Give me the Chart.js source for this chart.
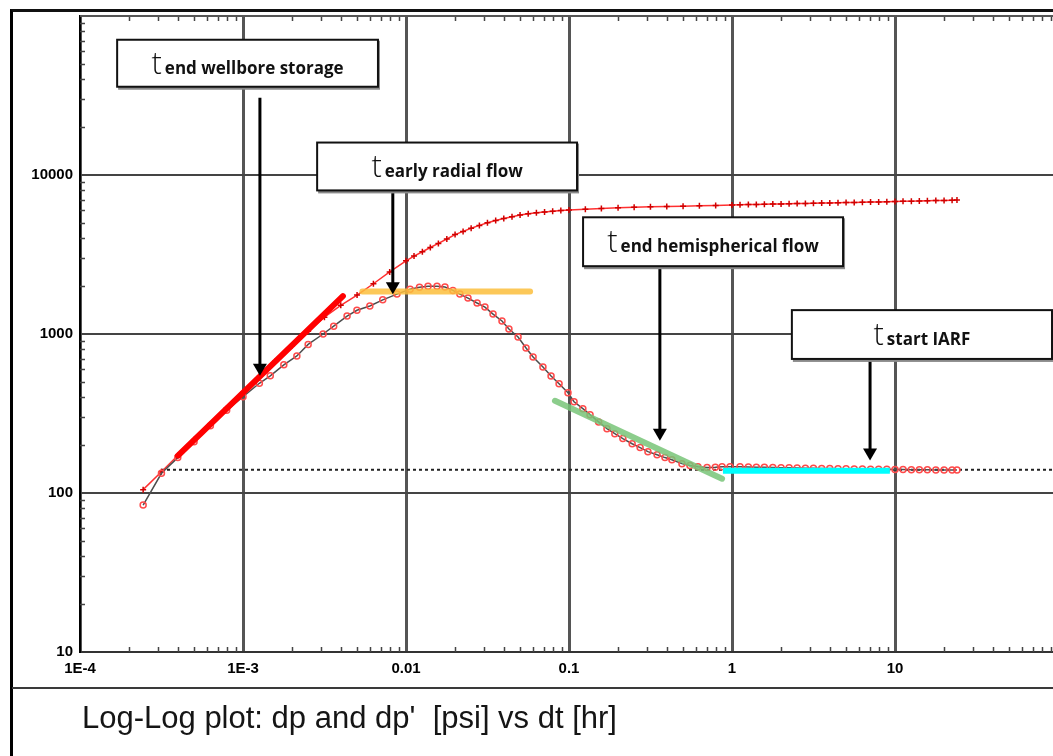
<!DOCTYPE html>
<html lang="en">
  <head>
    <meta charset="UTF-8" />
    <title>Log-Log plot</title>
    <script src="https://cdn.jsdelivr.net/npm/chart.js"></script>
    <style>
      body {
        margin: 0;
        background: #fff;
      }
      .sheet {
        position: relative;
        width: 1053px;
        height: 756px;
        overflow: hidden;
        background: #fff;
      }
      #plot {
        position: absolute;
        left: 0;
        top: 0;
      }
      .frame {
        position: absolute;
        left: 10px;
        top: 9px;
        width: 1100px;
        height: 800px;
        border-left: 3px solid #000;
        border-top: 3px solid #111;
        pointer-events: none;
      }
      .rule {
        position: absolute;
        left: 12px;
        top: 687px;
        width: 1100px;
        height: 2px;
        background: #3a3a3a;
      }
      .caption {
        position: absolute;
        left: 82px;
        top: 702px;
        font: 31px/31px "Liberation Sans", Arial, sans-serif;
        color: #151515;
        white-space: pre;
      }
    </style>
  </head>
  <body>
    <div class="sheet">
      <canvas id="plot" width="1075" height="756"></canvas>
      <div class="frame"></div>
      <div class="rule"></div>
      <div class="caption">Log-Log plot: dp and dp'  [psi] vs dt [hr]</div>
    </div>

    <script>
      // pressure change dp [psi] vs elapsed time dt [hr]
      const dtDp = [
        2.44e-4, 3.16e-4, 3.98e-4, 5.01e-4, 6.31e-4, 7.94e-4, 1e-3, 1.26e-3,
        1.58e-3, 2.0e-3, 2.51e-3, 3.16e-3, 3.98e-3, 5.01e-3, 6.31e-3, 7.94e-3,
        0.01, 0.0112, 0.0126, 0.0141, 0.0158, 0.0178, 0.02, 0.0224, 0.0251,
        0.0282, 0.0316, 0.0355, 0.0398, 0.0447, 0.0501, 0.0562, 0.0631, 0.0708,
        0.0794, 0.0891, 0.1, 0.126, 0.158, 0.2, 0.251, 0.316, 0.398, 0.501,
        0.631, 0.794, 1.0, 1.12, 1.26, 1.41, 1.58, 1.78, 2.0, 2.24, 2.51, 2.82,
        3.16, 3.55, 3.98, 4.47, 5.01, 5.62, 6.31, 7.08, 7.94, 8.91, 10, 11.2,
        12.6, 14.1, 15.8, 17.8, 20, 22.4, 24,
      ];
      const dp = [
        105, 136, 172, 216, 272, 342, 430, 540, 676, 843, 1042, 1276, 1514,
        1758, 2070, 2455, 2884, 3090, 3289, 3500, 3715, 3960, 4217, 4420, 4624,
        4820, 5012, 5180, 5333, 5470, 5598, 5700, 5781, 5850, 5916, 5970, 6026,
        6100, 6166, 6220, 6266, 6305, 6339, 6370, 6397, 6440, 6486, 6500, 6515,
        6530, 6546, 6560, 6575, 6590, 6607, 6625, 6640, 6655, 6668, 6685, 6705,
        6725, 6745, 6760, 6775, 6790, 6808, 6830, 6850, 6870, 6887, 6905, 6920,
        6935, 6950,
      ];

      // pressure derivative dp' [psi]
      const dtDer = [
        2.44e-4, 3.16e-4, 3.98e-4, 5.01e-4, 6.31e-4, 7.94e-4, 1e-3, 1.26e-3,
        1.47e-3, 1.78e-3, 2.14e-3, 2.51e-3, 3.1e-3, 3.6e-3, 4.35e-3, 5.0e-3,
        6.0e-3, 7.2e-3, 8.8e-3, 0.0106, 0.0121, 0.01365, 0.0155, 0.01734,
        0.0194, 0.0214, 0.024, 0.0273, 0.0305, 0.0342, 0.0388, 0.0428, 0.0487,
        0.0545, 0.0602, 0.0692, 0.0776, 0.0869, 0.0986, 0.1074, 0.1216, 0.1346,
        0.152, 0.171, 0.191, 0.214, 0.244, 0.273, 0.305, 0.347, 0.388, 0.428,
        0.493, 0.552, 0.618, 0.703, 0.79, 0.869, 0.973, 1.12, 1.26, 1.41, 1.58,
        1.78, 2.0, 2.24, 2.51, 2.82, 3.16, 3.55, 3.98, 4.47, 5.01, 5.62, 6.31,
        7.08, 7.94, 8.91, 10, 11.2, 12.6, 14.1, 15.8, 17.8, 20, 22.4, 24,
      ];
      const dpDer = [
        84, 133, 167, 210, 265, 331, 403, 490, 546, 640, 728, 860, 1000, 1120,
        1297, 1410, 1500, 1640, 1782, 1914, 1965, 2000, 1995, 1972, 1880, 1782,
        1683, 1566, 1477, 1334, 1207, 1075, 957, 817, 717, 621, 545, 486, 427,
        375, 339, 311, 280, 254, 236, 220, 204, 193, 182, 174, 167, 162, 153,
        149, 146.5, 144.5, 145, 146.5, 146.5, 146, 145.5, 145, 145, 144.5, 144,
        144, 143.5, 143, 143, 142.5, 142.5, 142, 142, 141.5, 141.5, 141, 141,
        141, 140.5, 140.5, 140, 140, 140, 139.5, 139.5, 139.5, 139.5,
      ];

      // flow-regime straight lines
      const wbsDt = [3.99e-4, 4.1e-3];
      const wbsP = [172, 1730];
      const radialDt = [5.4e-3, 0.0577];
      const radialP = [1850, 1850];
      const hemiDt = [0.082, 0.869];
      const hemiP = [380, 123];
      const iarfDt = [0.88, 9.3];
      const iarfP = [138, 138];
      const stabDt = [3.14e-4, 100];
      const stabP = [140, 140];

      // axes
      const xTicks = [1e-4, 1e-3, 0.01, 0.1, 1, 10, 100];
      const xLabels = ["1E-4", "1E-3", "0.01", "0.1", "1", "10", ""];
      const yTicks = [10, 100, 1000, 10000, 100000];
      const yLabels = ["10", "100", "1000", "10000", ""];

      // callouts: box corners [dt1, dt2, p1, p2], arrow [dt, pFrom, pTo]
      const callouts = [
        { text: "end wellbore storage", box: [1.69e-4, 6.73e-3, 70900, 35900], arrow: [1.27e-3, 30600, 546] },
        { text: "early radial flow", box: [2.85e-3, 0.112, 16000, 8000], arrow: [8.3e-3, 7900, 1780] },
        { text: "end hemispherical flow", box: [0.122, 4.8, 5420, 2670], arrow: [0.361, 2640, 213] },
        { text: "start IARF", box: [2.33, 91.9, 1413, 697], arrow: [7.03, 690, 160] },
      ];

      const pairs = (xs, ys) => xs.map((x, i) => ({ x, y: ys[i] }));

      const minorTicks = {
        id: "minorTicks",
        beforeDatasetsDraw(chart) {
          const { ctx, chartArea, scales } = chart;
          const { left, right, top, bottom } = chartArea;
          ctx.save();
          ctx.strokeStyle = "#444";
          ctx.lineWidth = 1.5;
          ctx.beginPath();
          for (let k = -4; k < 2; k++) {
            for (let m = 2; m <= 9; m++) {
              const px = Math.round(scales.x.getPixelForValue(m * 10 ** k)) + 0.5;
              ctx.moveTo(px, bottom);
              ctx.lineTo(px, bottom - 5);
              ctx.moveTo(px, top);
              ctx.lineTo(px, top + 5);
            }
          }
          for (let k = 1; k < 5; k++) {
            for (let m = 2; m <= 9; m++) {
              const py = Math.round(scales.y.getPixelForValue(m * 10 ** k)) + 0.5;
              ctx.moveTo(left, py);
              ctx.lineTo(left + 5, py);
            }
          }
          ctx.stroke();
          // top edge of the plot
          ctx.strokeStyle = "#555";
          ctx.lineWidth = 2;
          ctx.beginPath();
          ctx.moveTo(left, top);
          ctx.lineTo(right, top);
          ctx.stroke();
          ctx.restore();
        },
      };

      const calloutBoxes = {
        id: "calloutBoxes",
        afterDraw(chart) {
          const { ctx, scales } = chart;
          const sx = scales.x, sy = scales.y;
          ctx.save();
          callouts.forEach((c) => {
            const x1 = sx.getPixelForValue(c.box[0]);
            const x2 = sx.getPixelForValue(c.box[1]);
            const y1 = sy.getPixelForValue(c.box[2]);
            const y2 = sy.getPixelForValue(c.box[3]);

            // arrow
            const ax = sx.getPixelForValue(c.arrow[0]);
            const ay1 = sy.getPixelForValue(c.arrow[1]);
            const ay2 = sy.getPixelForValue(c.arrow[2]);
            ctx.strokeStyle = "#000";
            ctx.lineWidth = 3;
            ctx.beginPath();
            ctx.moveTo(ax, ay1);
            ctx.lineTo(ax, ay2 - 10);
            ctx.stroke();
            ctx.fillStyle = "#000";
            ctx.beginPath();
            ctx.moveTo(ax - 7, ay2 - 12);
            ctx.lineTo(ax + 7, ay2 - 12);
            ctx.lineTo(ax, ay2);
            ctx.closePath();
            ctx.fill();

            // box
            ctx.fillStyle = "#8a8a8a";
            ctx.fillRect(x1 + 1, y1 + 1, x2 - x1 + 1, y2 - y1 + 2);
            ctx.fillStyle = "#fff";
            ctx.fillRect(x1, y1, x2 - x1, y2 - y1);
            ctx.strokeStyle = "#111";
            ctx.lineWidth = 2;
            ctx.strokeRect(x1, y1, x2 - x1, y2 - y1);

            // label: large "t" followed by the event name
            ctx.fillStyle = "#111";
            ctx.textBaseline = "alphabetic";
            const big = '300 31px "Open Sans"';
            const small = '700 17px "Open Sans"';
            ctx.font = big;
            const wt = ctx.measureText("t").width;
            ctx.font = small;
            const ws = ctx.measureText(c.text).width;
            const gap = 3;
            const start = (x1 + x2) / 2 - (wt + gap + ws) / 2;
            const base = y1 + (y2 - y1) * 0.72;
            ctx.font = big;
            ctx.fillText("t", start, base);
            ctx.font = small;
            ctx.fillText(c.text, start + wt + gap, base);
          });
          ctx.restore();
        },
      };

      const tickFont = { family: "Liberation Sans", size: 15, weight: "bold" };

      new Chart(document.getElementById("plot"), {
        type: "scatter",
        data: {
          datasets: [
            {
              label: "IARF",
              data: pairs(iarfDt, iarfP),
              showLine: true,
              borderColor: "#00ffff",
              borderWidth: 6,
              pointRadius: 0,
              order: 0,
            },
            {
              label: "hemispherical flow",
              data: pairs(hemiDt, hemiP),
              showLine: true,
              borderColor: "rgba(120,196,120,0.85)",
              borderWidth: 6,
              borderCapStyle: "round",
              pointRadius: 0,
              order: 0,
            },
            {
              label: "early radial flow",
              data: pairs(radialDt, radialP),
              showLine: true,
              borderColor: "rgba(252,190,60,0.85)",
              borderWidth: 6,
              borderCapStyle: "round",
              pointRadius: 0,
              order: 0,
            },
            {
              label: "wellbore storage",
              data: pairs(wbsDt, wbsP),
              showLine: true,
              borderColor: "#ff0000",
              borderWidth: 6,
              borderCapStyle: "round",
              pointRadius: 0,
              order: 0,
            },
            {
              label: "dp'",
              data: pairs(dtDer, dpDer),
              showLine: true,
              borderColor: "#4d4d4d",
              borderWidth: 1.5,
              pointStyle: "circle",
              pointRadius: 3,
              pointBorderColor: "#ff4a4a",
              pointBackgroundColor: "rgba(255,255,255,0)",
              pointBorderWidth: 1.5,
              order: 1,
            },
            {
              label: "dp",
              data: pairs(dtDp, dp),
              showLine: true,
              borderColor: "#ff3030",
              borderWidth: 1.5,
              pointStyle: "cross",
              pointRadius: 3,
              pointBorderColor: "#d00000",
              pointBorderWidth: 1.5,
              order: 2,
            },
            {
              label: "stabilisation",
              data: pairs(stabDt, stabP),
              showLine: true,
              borderColor: "#222",
              borderWidth: 2,
              borderDash: [3, 3],
              pointRadius: 0,
              order: 3,
            },
          ],
        },
        options: {
          responsive: false,
          animation: false,
          devicePixelRatio: 1,
          layout: { padding: { left: 12, right: 17, top: 14, bottom: 74 } },
          plugins: {
            legend: { display: false },
            tooltip: { enabled: false },
          },
          scales: {
            x: {
              type: "logarithmic",
              min: 1e-4,
              max: 100,
              afterBuildTicks: (s) => {
                s.ticks = xTicks.map((v) => ({ value: v }));
              },
              afterFit: (s) => {
                s.height = 30;
              },
              grid: { color: "#555", lineWidth: 3, drawTicks: false },
              border: { color: "#333", width: 2 },
              ticks: {
                autoSkip: false,
                maxRotation: 0,
                padding: 8,
                color: "#000",
                font: tickFont,
                callback: (v, i) => xLabels[i],
              },
            },
            y: {
              type: "logarithmic",
              min: 10,
              max: 100000,
              afterBuildTicks: (s) => {
                s.ticks = yTicks.map((v) => ({ value: v }));
              },
              afterFit: (s) => {
                s.width = 68;
              },
              grid: { color: "#444", lineWidth: 2, drawTicks: false },
              border: { color: "#000", width: 2 },
              ticks: {
                autoSkip: false,
                padding: 7,
                color: "#000",
                font: tickFont,
                callback: (v, i) => yLabels[i],
              },
            },
          },
        },
        plugins: [minorTicks, calloutBoxes],
      });
    </script>
  </body>
</html>
